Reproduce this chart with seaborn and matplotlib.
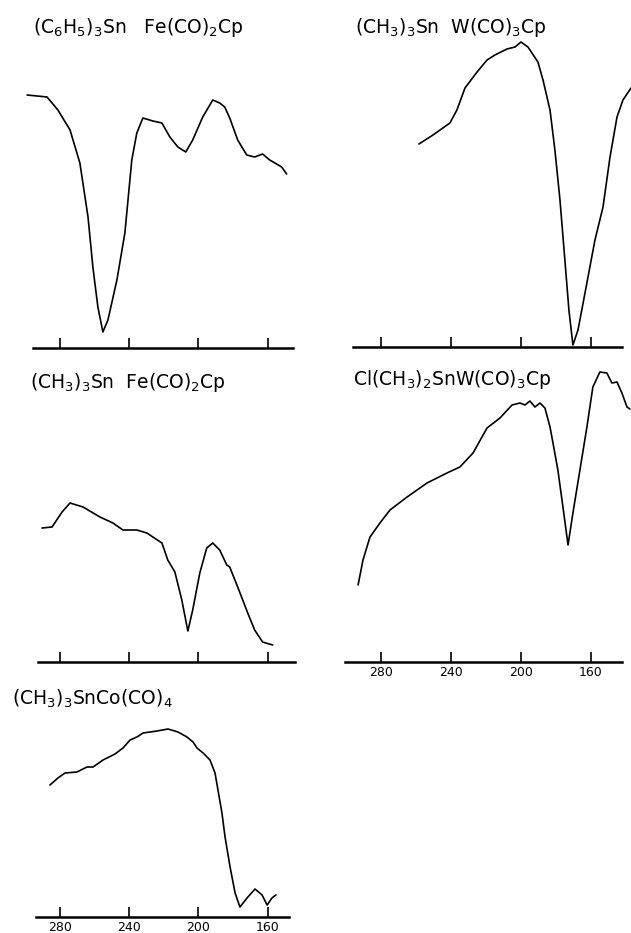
import numpy as np
import pandas as pd
import seaborn as sns
import matplotlib.pyplot as plt

# far-IR traces, wavenumber (cm-1) vs relative transmittance (arbitrary units)

# (C6H5)3Sn Fe(CO)2Cp
ph_fe_cm = [299.0, 287.5, 281.2, 274.2, 268.5, 263.8, 261.0, 258.1, 255.2, 252.3,
            247.1, 242.5, 238.5, 235.6, 232.1, 226.3, 221.1, 216.5, 211.9, 207.3,
            203.3, 197.5, 191.7, 187.7, 184.8, 181.9, 177.3, 172.1, 167.5, 162.9,
            158.8, 154.8, 151.9, 149.0]
ph_fe_T = [253, 251, 238, 218, 185, 131, 81, 41, 16, 28,
           68, 115, 188, 215, 230, 227, 225, 211, 201, 196,
           208, 231, 248, 245, 241, 230, 208, 193, 191, 194,
           188, 184, 181, 174]

# (CH3)3Sn W(CO)3Cp
me_w_cm = [258.3, 250.3, 240.6, 236.6, 232.0, 225.1, 219.4, 214.9, 208.0, 203.4,
           200.0, 196.0, 190.3, 187.4, 183.4, 180.6, 177.7, 174.9, 172.6, 170.3,
           167.4, 163.4, 157.7, 153.1, 149.1, 145.1, 141.7, 137.1]
me_w_T = [203, 212, 224, 237, 259, 275, 287, 292, 298, 300,
          305, 300, 285, 267, 237, 197, 147, 87, 37, 2,
          17, 54, 107, 140, 190, 230, 247, 259]

# (CH3)3Sn Fe(CO)2Cp
me_fe_cm = [290.4, 284.6, 278.8, 274.2, 266.7, 256.9, 249.4, 243.6, 235.6, 229.8,
            221.1, 217.7, 213.6, 209.6, 206.1, 203.3, 199.2, 195.2, 191.7, 187.7,
            183.6, 181.9, 177.3, 171.5, 167.5, 162.9, 157.1]
me_fe_T = [134, 135, 150, 159, 155, 145, 139, 132, 132, 129,
           119, 102, 90, 62, 31, 52, 89, 114, 119, 112,
           97, 95, 75, 49, 32, 20, 17]

# Cl(CH3)2SnW(CO)3Cp
cl_w_cm = [293.1, 290.3, 286.3, 280.6, 274.9, 265.1, 253.7, 242.3, 234.9, 227.4,
           219.4, 212.0, 205.1, 200.6, 197.7, 194.9, 192.0, 189.1, 186.3, 183.4,
           181.7, 178.9, 176.0, 173.1, 170.3, 166.3, 162.3, 158.9, 154.9, 150.9,
           148.0, 145.1, 142.3, 139.4, 137.7]
cl_w_T = [77, 102, 125, 139, 152, 165, 179, 189, 195, 209,
          234, 244, 257, 259, 257, 261, 255, 259, 254, 235,
          219, 192, 155, 117, 149, 192, 235, 275, 290, 289,
          279, 280, 269, 255, 253]

# (CH3)3SnCo(CO)4
me_co_cm = [285.8, 281.2, 277.1, 270.2, 264.4, 260.9, 255.1, 248.2, 243.6, 239.5,
            235.5, 232.0, 223.9, 217.6, 211.8, 206.6, 203.1, 200.8, 197.3, 193.3,
            190.4, 188.7, 186.4, 184.6, 181.7, 178.8, 176.0, 171.9, 167.3, 163.2,
            160.3, 157.5, 155.2]
me_co_T = [132, 139, 144, 145, 150, 150, 157, 163, 169, 177,
           180, 184, 186, 188, 185, 180, 175, 169, 164, 157,
           144, 127, 104, 80, 50, 24, 10, 19, 28, 22,
           12, 19, 22]

titles = ["(C$_6$H$_5$)$_3$Sn   Fe(CO)$_2$Cp",
          "(CH$_3$)$_3$Sn  W(CO)$_3$Cp",
          "(CH$_3$)$_3$Sn  Fe(CO)$_2$Cp",
          "Cl(CH$_3$)$_2$SnW(CO)$_3$Cp",
          "(CH$_3$)$_3$SnCo(CO)$_4$"]
tick_vals = [280, 240, 200, 160]
tick_labels = ["280", "240", "200", "160"]

W, H = 631, 933


def fig_box(left, right, bottom, top):
    return [left / W, 1 - bottom / H, (right - left) / W, (bottom - top) / H]


def main():
    sns.set_style("white")
    plt.rcParams['font.family'] = ['DejaVu Sans']
    plt.rcParams['mathtext.default'] = 'regular'

    fig = plt.figure(figsize=(W / 100, H / 100), dpi=100)

    # axes box in pixels, x limits, axis line extent, labels?, title pos
    panels = [
        (ph_fe_cm, ph_fe_T, (15, 305, 348, 40), (306.0, 138.4), (295.6, 145.3), False, (33, 33)),
        (me_w_cm, me_w_T, (335, 645, 347, 35), (306.3, 129.1), (296.0, 142.3), False, (355, 33)),
        (me_fe_cm, me_fe_T, (15, 305, 662, 400), (306.0, 138.4), (292.7, 144.2), False, (30, 388)),
        (cl_w_cm, cl_w_T, (335, 645, 662, 365), (306.3, 129.1), (300.6, 142.3), True, (353, 385)),
        (me_co_cm, me_co_T, (15, 305, 917, 715), (306.0, 138.4), (293.9, 147.6), True, (12, 705)),
    ]

    for (xs, ys, box, xlim, bounds, labels, tpos), title in zip(panels, titles):
        ax = fig.add_axes(fig_box(*box))
        df = pd.DataFrame({"cm": xs, "T": ys})
        sns.lineplot(data=df, x="cm", y="T", ax=ax, color="black", linewidth=1.2,
                     sort=False, estimator=None)
        ax.set_xlim(*xlim)
        ax.set_ylim(0, box[2] - box[3])
        ax.set_xlabel("")
        ax.set_ylabel("")
        ax.set_yticks([])
        ax.set_xticks(tick_vals)
        ax.set_xticklabels(tick_labels if labels else [])
        ax.tick_params(axis="x", direction="in", length=7, width=1.2, pad=3,
                       labelsize=9, colors="black", bottom=True)
        for s in ["top", "left", "right"]:
            ax.spines[s].set_visible(False)
        ax.spines["bottom"].set_bounds(*bounds)
        ax.spines["bottom"].set_linewidth(1.8)
        ax.spines["bottom"].set_color("black")
        ax.patch.set_alpha(0)
        for line in ax.lines:
            line.set_clip_on(False)
        fig.text(tpos[0] / W, 1 - tpos[1] / H, title, fontsize=13.5,
                 color="black", ha="left", va="baseline")

    fig.savefig("out.png", dpi=100)


if __name__ == "__main__":
    main()
